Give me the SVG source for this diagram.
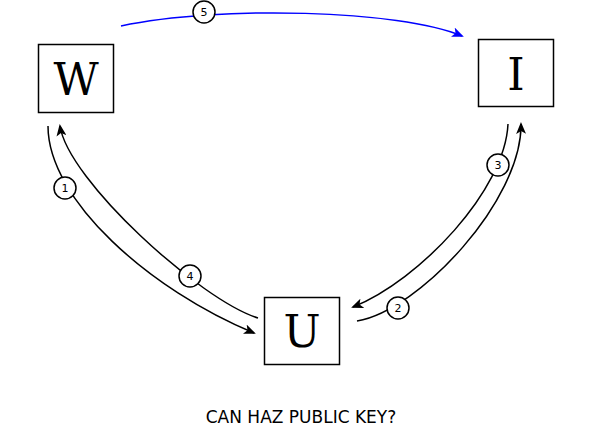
<svg xmlns="http://www.w3.org/2000/svg" width="599" height="440" viewBox="0 0 599 440">
<style>
.box{fill:#fff;stroke:#000;stroke-width:1.5}
.lbl{font-family:"DejaVu Serif","Liberation Serif",serif;font-size:44px;text-anchor:middle;fill:#000}
.c{fill:none;stroke:#000;stroke-width:1.5}
.num circle{fill:#fff;stroke:#000;stroke-width:1.5}
.num text{font-family:"DejaVu Sans",sans-serif;font-size:11px;text-anchor:middle;fill:#000}
.cap{font-family:"DejaVu Sans",sans-serif;font-size:17px;text-anchor:middle;fill:#000}
</style>
<defs>
<marker id="ah" viewBox="0 0 12 10" refX="10" refY="5" markerWidth="12" markerHeight="10" markerUnits="userSpaceOnUse" orient="auto">
<path d="M0,0 L12,5 L0,10 L3,5 Z" fill="#000"/>
</marker>
<marker id="ahb" viewBox="0 0 12 10" refX="10" refY="5" markerWidth="12" markerHeight="10" markerUnits="userSpaceOnUse" orient="auto">
<path d="M0,0 L12,5 L0,10 L3,5 Z" fill="#00f"/>
</marker>
</defs>
<g id="connectors">
<path class="c" d="M48,126 C48,200 150,290 254,333" marker-end="url(#ah)"/>
<path class="c" d="M258,318 C200,300 68,180 60,126" marker-end="url(#ah)"/>
<path class="c" d="M357,321 C420,310 522,200 521,124" marker-end="url(#ah)"/>
<path class="c" d="M508,124 C505,190 420,280 353,307" marker-end="url(#ah)"/>
<path d="M121,26 C220,5 400,10 462,36" fill="none" stroke="#00f" stroke-width="1.5" marker-end="url(#ahb)"/>
</g>
<g id="node-W"><rect class="box" x="38.5" y="44.5" width="75" height="68"/><text class="lbl" x="76" y="95">W</text></g>
<g id="node-I"><rect class="box" x="478.5" y="39.5" width="75" height="67"/><text class="lbl" x="516" y="90">I</text></g>
<g id="node-U"><rect class="box" x="264.5" y="297.5" width="75" height="67"/><text class="lbl" x="302" y="347">U</text></g>
<g id="label-1" class="num"><circle cx="65" cy="188" r="11"/><text x="65" y="192">1</text></g>
<g id="label-2" class="num"><circle cx="398" cy="308" r="11"/><text x="398" y="312">2</text></g>
<g id="label-3" class="num"><circle cx="498" cy="165" r="11"/><text x="498" y="169">3</text></g>
<g id="label-4" class="num"><circle cx="190" cy="276" r="11"/><text x="190" y="280">4</text></g>
<g id="label-5" class="num"><circle cx="204" cy="12" r="11"/><text x="204" y="16">5</text></g>
<text class="cap" x="301" y="423">CAN HAZ PUBLIC KEY?</text>
</svg>
